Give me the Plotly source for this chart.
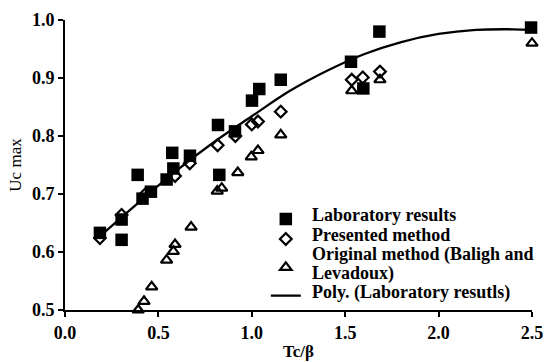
import plotly.graph_objects as go

# Laboratory results (filled squares)
lab_x = [0.187, 0.303, 0.303, 0.389, 0.415, 0.460, 0.544, 0.574, 0.580, 0.669,
         0.819, 0.826, 0.910, 1.001, 1.040, 1.155, 1.531, 1.597, 1.683, 2.495]
lab_y = [0.633, 0.621, 0.656, 0.733, 0.692, 0.704, 0.725, 0.771, 0.744, 0.766,
         0.819, 0.733, 0.808, 0.861, 0.881, 0.897, 0.928, 0.882, 0.980, 0.987]

# Presented method (open diamonds)
pres_x = [0.187, 0.303, 0.428, 0.589, 0.668, 0.817, 0.912, 1.000, 1.033, 1.155,
          1.535, 1.594, 1.686, 2.502]
pres_y = [0.624, 0.664, 0.699, 0.731, 0.753, 0.784, 0.800, 0.820, 0.825, 0.842,
          0.897, 0.901, 0.911, 0.963]

# Original method (Baligh and Levadoux) (open triangles)
orig_x = [0.392, 0.423, 0.464, 0.544, 0.580, 0.589, 0.675, 0.815, 0.839, 0.925,
          0.997, 1.033, 1.155, 1.535, 1.686, 2.500]
orig_y = [0.500, 0.515, 0.540, 0.586, 0.601, 0.613, 0.643, 0.705, 0.710, 0.737,
          0.764, 0.775, 0.802, 0.878, 0.897, 0.960]

# Poly. trend line
poly_x = [0.19, 0.4, 0.6, 0.8, 1.0, 1.2, 1.4, 1.6, 1.8, 2.0, 2.2, 2.4, 2.5]
poly_y = [0.628, 0.687, 0.741, 0.790, 0.834, 0.877, 0.912, 0.941, 0.962, 0.976,
          0.983, 0.984, 0.983]

x_ticks = [0.0, 0.5, 1.0, 1.5, 2.0, 2.5]
y_ticks = [0.5, 0.6, 0.7, 0.8, 0.9, 1.0]

legend_lines = ["Laboratory results", "Presented method",
                "Original method (Baligh and", "Levadoux)",
                "Poly. (Laboratory resutls)"]

FONT = "Liberation Serif"

sq = dict(symbol="square", size=12.5, color="black")
dm = dict(symbol="diamond-open", size=9, color="black", line=dict(width=2.2, color="black"))
tr = dict(symbol="triangle-up-open", size=10, color="black", line=dict(width=2.2, color="black"))
ln = dict(color="black", width=2.3, shape="spline")

fig = go.Figure()
fig.add_trace(go.Scatter(x=lab_x, y=lab_y, mode="markers", name=legend_lines[0],
                         marker=sq, cliponaxis=False, showlegend=False))
fig.add_trace(go.Scatter(x=pres_x, y=pres_y, mode="markers", name=legend_lines[1],
                         marker=dm, cliponaxis=False, showlegend=False))
fig.add_trace(go.Scatter(x=orig_x, y=orig_y, mode="markers",
                         name=legend_lines[2] + " " + legend_lines[3],
                         marker=tr, cliponaxis=False, showlegend=False))
fig.add_trace(go.Scatter(x=poly_x, y=poly_y, mode="lines", name=legend_lines[4],
                         line=ln, cliponaxis=False, showlegend=False))

# legend keys only (their labels are drawn as annotations, with the tight row spacing of the reference)
fig.add_trace(go.Scatter(x=[None], y=[None], mode="markers", name=" ", marker=sq))
fig.add_trace(go.Scatter(x=[None], y=[None], mode="markers", name=" ", marker=dm))
fig.add_trace(go.Scatter(x=[None], y=[None], mode="markers", name=" <br> ", marker=tr))
fig.add_trace(go.Scatter(x=[None], y=[None], mode="lines", name=" ", line=ln))

fig.update_layout(
    width=549, height=362,
    margin=dict(l=65, r=17, t=20, b=52),
    paper_bgcolor="white", plot_bgcolor="white",
    font=dict(family=FONT, size=17, color="black"),
    legend=dict(x=0.43, y=0.365, xanchor="left", yanchor="top",
                bgcolor="rgba(0,0,0,0)", borderwidth=0,
                font=dict(family=FONT, size=13, color="black"),
                tracegroupgap=0),
    showlegend=True,
)

row_px = [215, 234.5, 254, 273, 292.5]
for txt, py in zip(legend_lines, row_px):
    fig.add_annotation(
        text=txt, xref="paper", yref="paper",
        x=(310 - 65) / 467, y=(310 - py) / 290,
        xanchor="left", yanchor="middle", showarrow=False,
        font=dict(family=FONT, size=18, color="black", weight="bold"))

fig.update_xaxes(
    range=[0, 2.5], tickvals=x_ticks, ticktext=[f"{v:.1f}" for v in x_ticks],
    showline=True, linecolor="black", linewidth=2, mirror=False,
    ticks="outside", ticklen=5, tickwidth=2, tickcolor="black",
    showgrid=False, zeroline=False, automargin=False,
    tickfont=dict(family=FONT, size=18, weight="bold"),
    title=dict(text="Tc/β", font=dict(family=FONT, size=17, weight="bold"), standoff=4))
fig.update_yaxes(
    range=[0.5, 1.0], tickvals=y_ticks, ticktext=[f"{v:.1f}" for v in y_ticks],
    showline=True, linecolor="black", linewidth=2, mirror=False,
    ticks="outside", ticklen=5, tickwidth=2, tickcolor="black",
    showgrid=False, zeroline=False, automargin=False,
    tickfont=dict(family=FONT, size=18, weight="bold"),
    title=dict(text="Uc max", font=dict(family=FONT, size=17), standoff=6))

fig.write_html("out.html")
